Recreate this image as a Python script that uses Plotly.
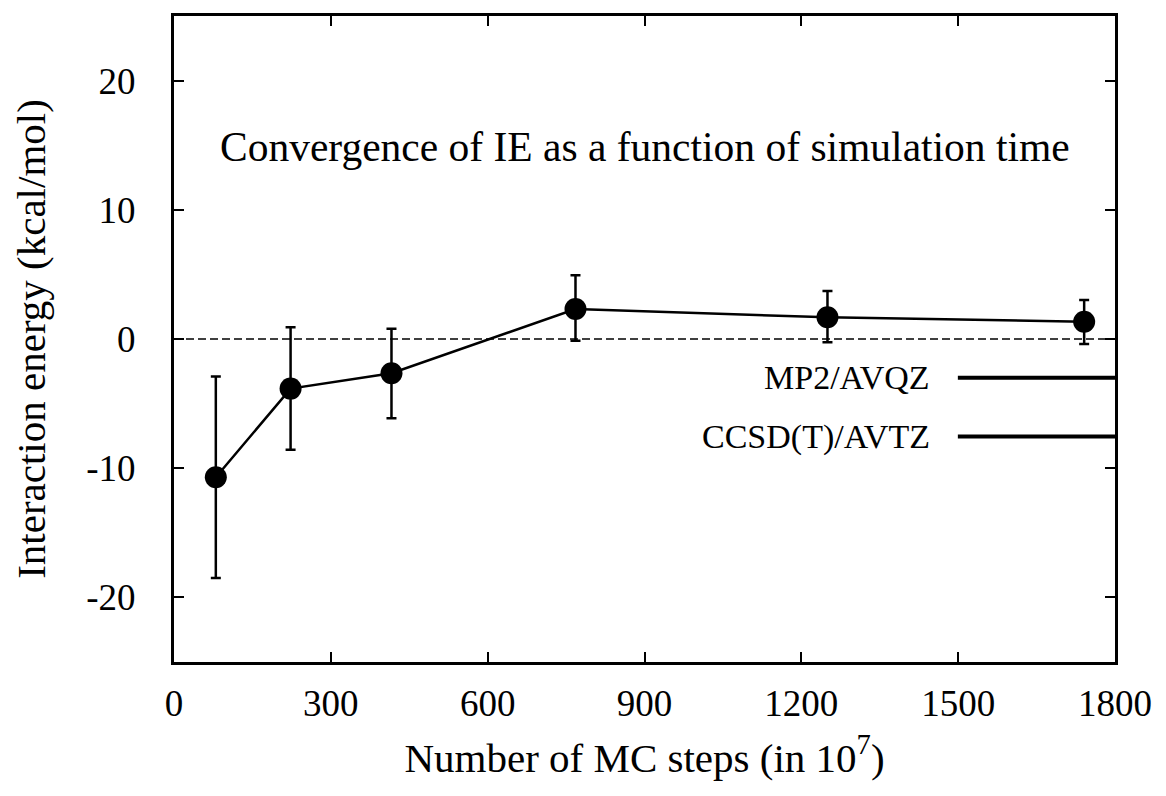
import plotly.graph_objects as go

# Data
mc_steps = [80, 223, 416, 768, 1250, 1741]
energy = [-10.7, -3.84, -2.65, 2.32, 1.68, 1.34]
err_upper = [-2.9, 0.9, 0.8, 4.93, 3.71, 3.02]
err_lower = [-18.5, -8.58, -6.13, -0.13, -0.26, -0.39]
legend_labels = ["MP2/AVQZ", "CCSD(T)/AVTZ"]
x_ticks = [0, 300, 600, 900, 1200, 1500, 1800]
y_ticks = [-20, -10, 0, 10, 20]

plus = [u - e for u, e in zip(err_upper, energy)]
minus = [e - l for e, l in zip(energy, err_lower)]

FONT = "Liberation Serif"

fig = go.Figure()
fig.add_hline(y=0, line=dict(color="black", width=1.3, dash="8px,4px"))
fig.add_trace(go.Scatter(
    x=mc_steps, y=energy, mode="lines+markers",
    line=dict(color="black", width=2.5),
    marker=dict(color="black", size=22, symbol="circle"),
    error_y=dict(type="data", symmetric=False, array=plus, arrayminus=minus,
                 color="black", thickness=2.5, width=5),
    showlegend=False,
))

# gnuplot-style key (text left of the sample line)
key_y = [0.440, 0.349]
for lab, yy in zip(legend_labels, key_y):
    fig.add_annotation(x=0.806, y=yy, xref="paper", yref="paper", text=lab,
                       showarrow=False, xanchor="right", yanchor="middle",
                       font=dict(family=FONT, size=34, color="black"))
    fig.add_shape(type="line", xref="paper", yref="paper", x0=0.833, x1=1.0,
                  y0=yy, y1=yy, line=dict(color="black", width=4))

fig.add_annotation(x=0.5, y=0.797, xref="paper", yref="paper",
                   text="Convergence of IE as a function of simulation time",
                   showarrow=False, xanchor="center", yanchor="middle",
                   font=dict(family=FONT, size=41.5, color="black"))

axis_common = dict(showline=True, linecolor="black", linewidth=3, mirror="ticks",
                   ticks="inside", ticklen=10, tickwidth=2, tickcolor="black",
                   showgrid=False, zeroline=False, automargin=False,
                   tickfont=dict(family=FONT, size=37, color="black"))

fig.update_xaxes(range=[0, 1800], tickvals=x_ticks, ticktext=[str(t) for t in x_ticks],
                 ticklabelstandoff=7,
                 title=dict(text="Number of MC steps (in 10<sup>7</sup>)",
                            font=dict(family=FONT, size=41, color="black"), standoff=20),
                 **axis_common)
fig.update_yaxes(range=[-25, 25], tickvals=y_ticks, ticktext=[str(t) for t in y_ticks],
                 ticklabelstandoff=28,
                 title=dict(text="Interaction energy (kcal/mol)",
                            font=dict(family=FONT, size=41, color="black"), standoff=37),
                 **axis_common)

fig.update_layout(width=1158, height=788, paper_bgcolor="white", plot_bgcolor="white",
                  margin=dict(l=166, r=51, t=8, b=134, autoexpand=False), showlegend=False)

fig.write_html("out.html")
